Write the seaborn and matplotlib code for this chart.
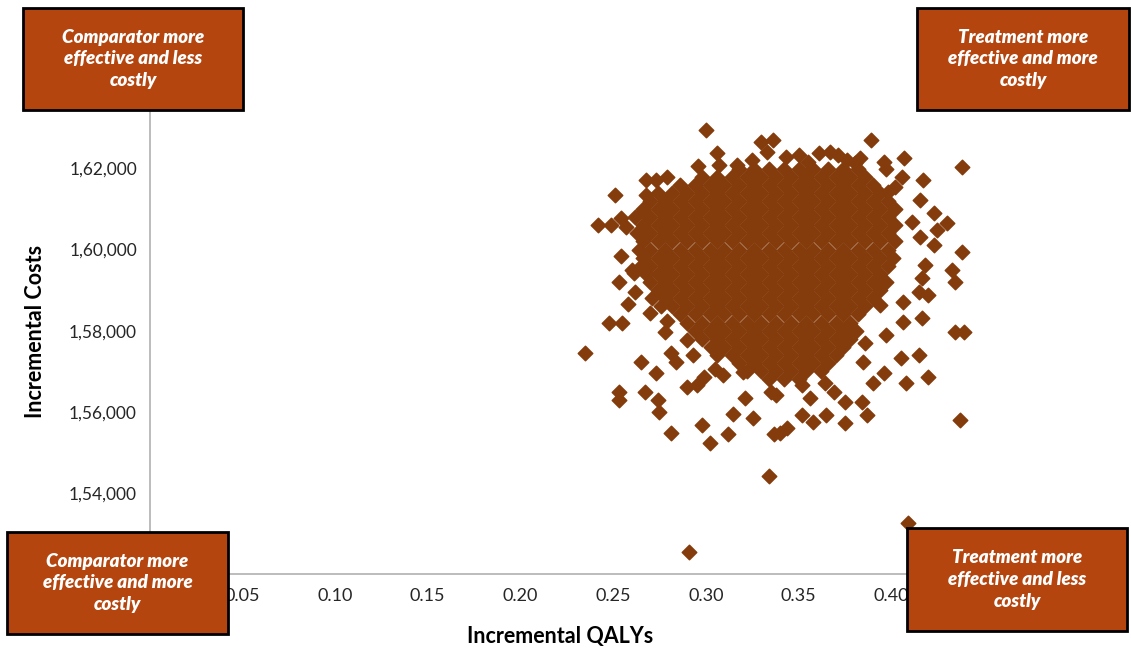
"""
Cost-effectiveness plane: incremental QALYs against incremental costs
"""

import matplotlib
matplotlib.use('Agg')
import matplotlib.pyplot as plt
from matplotlib.patches import Rectangle
import seaborn as sns
import pandas as pd


# Dense centre of the cloud
core_costs = [162000, 161800, 161600, 161400, 161200, 161000, 160800,
              160600, 160400, 160200, 160000, 159800, 159600, 159400,
              159200, 159000, 158800, 158600, 158400, 158200, 158000,
              157800, 157600, 157400, 157200, 157000, 156800]

core_qalys = [
    [0.318, 0.326, 0.334, 0.342, 0.350, 0.358, 0.366, 0.374, 0.382],
    [0.298, 0.306, 0.314, 0.322, 0.330, 0.338, 0.346, 0.354, 0.362, 0.370,
     0.378, 0.386],
    [0.286, 0.294, 0.302, 0.310, 0.318, 0.326, 0.334, 0.342, 0.350, 0.358,
     0.366, 0.374, 0.382, 0.390],
    [0.274, 0.282, 0.290, 0.298, 0.306, 0.314, 0.322, 0.330, 0.338, 0.346,
     0.354, 0.362, 0.370, 0.378, 0.386, 0.394],
    [0.270, 0.278, 0.286, 0.294, 0.302, 0.310, 0.318, 0.326, 0.334, 0.342,
     0.350, 0.358, 0.366, 0.374, 0.382, 0.390, 0.398],
    [0.266, 0.274, 0.282, 0.290, 0.298, 0.306, 0.314, 0.322, 0.330, 0.338,
     0.346, 0.354, 0.362, 0.370, 0.378, 0.386, 0.394, 0.402],
    [0.262, 0.270, 0.278, 0.286, 0.294, 0.302, 0.310, 0.318, 0.326, 0.334,
     0.342, 0.350, 0.358, 0.366, 0.374, 0.382, 0.390, 0.398],
    [0.266, 0.274, 0.282, 0.290, 0.298, 0.306, 0.314, 0.322, 0.330, 0.338,
     0.346, 0.354, 0.362, 0.370, 0.378, 0.386, 0.394, 0.402],
    [0.263, 0.270, 0.278, 0.286, 0.294, 0.302, 0.310, 0.318, 0.326, 0.334,
     0.342, 0.350, 0.358, 0.366, 0.374, 0.382, 0.390, 0.398],
    [0.266, 0.274, 0.282, 0.290, 0.298, 0.306, 0.314, 0.322, 0.330, 0.338,
     0.346, 0.354, 0.362, 0.370, 0.378, 0.386, 0.394, 0.402],
    [0.264, 0.270, 0.278, 0.286, 0.294, 0.302, 0.310, 0.318, 0.326, 0.334,
     0.342, 0.350, 0.358, 0.366, 0.374, 0.382, 0.390, 0.398],
    [0.266, 0.274, 0.282, 0.290, 0.298, 0.306, 0.314, 0.322, 0.330, 0.338,
     0.346, 0.354, 0.362, 0.370, 0.378, 0.386, 0.394, 0.401],
    [0.265, 0.270, 0.278, 0.286, 0.294, 0.302, 0.310, 0.318, 0.326, 0.334,
     0.342, 0.350, 0.358, 0.366, 0.374, 0.382, 0.390, 0.398],
    [0.268, 0.274, 0.282, 0.290, 0.298, 0.306, 0.314, 0.322, 0.330, 0.338,
     0.346, 0.354, 0.362, 0.370, 0.378, 0.386, 0.394],
    [0.270, 0.278, 0.286, 0.294, 0.302, 0.310, 0.318, 0.326, 0.334, 0.342,
     0.350, 0.358, 0.366, 0.374, 0.382, 0.390, 0.397],
    [0.274, 0.282, 0.290, 0.298, 0.306, 0.314, 0.322, 0.330, 0.338, 0.346,
     0.354, 0.362, 0.370, 0.378, 0.386, 0.394],
    [0.271, 0.278, 0.286, 0.294, 0.302, 0.310, 0.318, 0.326, 0.334, 0.342,
     0.350, 0.358, 0.366, 0.374, 0.382, 0.390],
    [0.276, 0.282, 0.290, 0.298, 0.306, 0.314, 0.322, 0.330, 0.338, 0.346,
     0.354, 0.362, 0.370, 0.378, 0.386],
    [0.286, 0.294, 0.302, 0.310, 0.318, 0.326, 0.334, 0.342, 0.350, 0.358,
     0.366, 0.374, 0.382],
    [0.290, 0.298, 0.306, 0.314, 0.322, 0.330, 0.338, 0.346, 0.354, 0.362,
     0.370, 0.378],
    [0.294, 0.302, 0.310, 0.318, 0.326, 0.334, 0.342, 0.350, 0.358, 0.366,
     0.374, 0.381],
    [0.298, 0.306, 0.314, 0.322, 0.330, 0.338, 0.346, 0.354, 0.362, 0.370,
     0.378],
    [0.303, 0.310, 0.318, 0.326, 0.334, 0.342, 0.350, 0.358, 0.366, 0.374],
    [0.306, 0.314, 0.322, 0.330, 0.338, 0.346, 0.354, 0.362, 0.370],
    [0.318, 0.326, 0.334, 0.342, 0.350, 0.358, 0.366],
    [0.322, 0.330, 0.338, 0.346, 0.354, 0.362],
    [0.334, 0.342, 0.350],
]

# Scattered points round the edge of the cloud
edge_qalys = [0.300, 0.306, 0.296, 0.307, 0.317, 0.333, 0.330, 0.336, 0.268,
              0.279, 0.273, 0.251, 0.268, 0.266, 0.242, 0.254, 0.249, 0.257,
              0.254, 0.260, 0.253, 0.261, 0.262, 0.248, 0.255, 0.235, 0.265,
              0.273, 0.253, 0.253, 0.267, 0.274, 0.275, 0.281, 0.284, 0.290,
              0.295, 0.270, 0.278, 0.290, 0.298, 0.3145, 0.321, 0.3255,
              0.309, 0.320, 0.338, 0.281, 0.302, 0.312, 0.337, 0.344, 0.340,
              0.352, 0.358, 0.365, 0.375, 0.387, 0.437, 0.334, 0.291, 0.409,
              0.433, 0.4345, 0.418, 0.4165, 0.415, 0.420, 0.4065, 0.394,
              0.4165, 0.4065, 0.4345, 0.439, 0.397, 0.405, 0.415, 0.420,
              0.408, 0.396, 0.390, 0.385, 0.369, 0.384, 0.375, 0.335, 0.356,
              0.389, 0.396, 0.407, 0.438, 0.406, 0.417, 0.4155, 0.423, 0.430,
              0.4245, 0.438, 0.411, 0.4155, 0.423, 0.361, 0.367, 0.3715,
              0.355, 0.3805, 0.383, 0.3985, 0.397, 0.325, 0.343, 0.350, 0.376,
              0.258, 0.279, 0.293, 0.305, 0.299, 0.352, 0.364, 0.386, 0.402]
edge_costs = [162950, 162370, 162070, 162090, 162090, 162410, 162660, 162700,
              161720, 161800, 161720, 161350, 161350, 160930, 160610, 160780,
              160610, 160560, 159830, 159500, 159210, 159420, 158960, 158190,
              158190, 157450, 157230, 156960, 156490, 156290, 156490, 156290,
              156000, 157450, 157240, 156620, 156660, 158440, 157980, 157770,
              155680, 155940, 156340, 155850, 156910, 156980, 156410, 155480,
              155220, 155450, 155450, 155610, 155480, 155920, 155740, 155920,
              155720, 155920, 155800, 154420, 152540, 153250, 159500, 159210,
              159620, 159290, 158960, 158880, 158720, 158630, 158310, 158220,
              157980, 157980, 157890, 157320, 157400, 156870, 156700, 156950,
              156700, 157240, 156500, 156250, 156250, 156500, 156330, 162700,
              162170, 162250, 162040, 161800, 161720, 161220, 160900, 160650,
              160480, 159950, 160690, 160320, 160110, 162370, 162410, 162330,
              162170, 162130, 162250, 161430, 162000, 162200, 162280, 162330,
              162220,
              158650, 158250, 157400, 157050, 156850, 156650, 156700, 157700,
              161550]

# Axis ticks (the outermost labels sit under the caption boxes)
x_ticks = [0.00, 0.05, 0.10, 0.15, 0.20, 0.25, 0.30, 0.35, 0.40, 0.45]
x_tick_labels = ['', '0.05', '0.10', '0.15', '0.20', '0.25', '0.30',
                 '0.35', '0.40', '']
y_ticks = [152000, 154000, 156000, 158000, 160000, 162000, 164000]
y_tick_labels = ['', '1,54,000', '1,56,000', '1,58,000',
                 '1,60,000', '1,62,000', '']

# Quadrant captions
quadrant_labels = ['Comparator more\neffective and less\ncostly',
                   'Treatment more\neffective and more\ncostly',
                   'Comparator more\neffective and more\ncostly',
                   'Treatment more\neffective and less\ncostly']


def load_points():
    """
    Put the core rows and the edge points into one DataFrame
    """
    qalys, costs = [], []
    for cost, row in zip(core_costs, core_qalys):
        qalys.extend(row)
        costs.extend([cost] * len(row))
    qalys.extend(edge_qalys)
    costs.extend(edge_costs)
    return pd.DataFrame({'QALY': qalys, 'Cost': costs})


def add_box(fig, x0, y0, x1, y1, text, W, H):
    """
    Draw a caption box, given in pixels from the top left
    """
    rect = Rectangle((x0 / W, 1 - y1 / H), (x1 - x0) / W, (y1 - y0) / H,
                     transform=fig.transFigure, facecolor='#B5450F',
                     edgecolor='black', linewidth=2, zorder=10)
    fig.add_artist(rect)
    fig.text((x0 + x1) / 2 / W, 1 - (y0 + y1) / 2 / H, text,
             ha='center', va='center', color='white', fontsize=13.5,
             fontweight='heavy', fontstyle='italic', linespacing=1.35,
             zorder=11)


def main():
    sns.set_style('white')
    plt.rcParams['font.family'] = ['Lato', 'DejaVu Sans']

    df = load_points()

    W, H = 1131, 651
    fig = plt.figure(figsize=(W / 100, H / 100), dpi=100)
    ax = fig.add_axes([149.5 / W, 1 - 574 / H, 834.5 / W, 486.6 / H])

    # Excel draws its markers without smoothing
    sns.scatterplot(data=df, x='QALY', y='Cost', marker='D', s=54,
                    color='#843C0C', edgecolor='#843C0C', linewidth=1.1,
                    antialiased=False, legend=False, ax=ax)

    ax.set_xlim(0, 0.45)
    ax.set_ylim(152000, 164000)
    ax.set_xticks(x_ticks)
    ax.set_xticklabels(x_tick_labels)
    ax.set_yticks(y_ticks)
    ax.set_yticklabels(y_tick_labels)

    for side in ['top', 'right']:
        ax.spines[side].set_visible(False)
    for side in ['left', 'bottom']:
        ax.spines[side].set_color('#B0B0B0')
        ax.spines[side].set_linewidth(1.2)

    ax.tick_params(axis='both', direction='out', length=5, width=1,
                   color='#B0B0B0', labelcolor='#262626')
    ax.tick_params(axis='x', pad=5, labelsize=13)
    ax.tick_params(axis='y', pad=4, labelsize=12.5)

    ax.set_xlabel('')
    ax.set_ylabel('')
    fig.text(560 / W, 1 - 637 / H, 'Incremental QALYs', ha='center',
             va='center', fontsize=15.5, fontweight='bold', color='black')
    fig.text(36 / W, 1 - 331 / H, 'Incremental Costs', ha='center',
             va='center', rotation=90, fontsize=15.5, fontweight='bold',
             color='black')

    # Quadrant boxes, drawn over the axes
    add_box(fig, 23, 8, 243, 110, quadrant_labels[0], W, H)
    add_box(fig, 917, 8, 1129, 110, quadrant_labels[1], W, H)
    add_box(fig, 7, 532, 228, 634, quadrant_labels[2], W, H)
    add_box(fig, 907, 528, 1127, 631, quadrant_labels[3], W, H)

    fig.savefig('out.png', dpi=100, facecolor='white')
    plt.close(fig)


if __name__ == '__main__':
    main()
